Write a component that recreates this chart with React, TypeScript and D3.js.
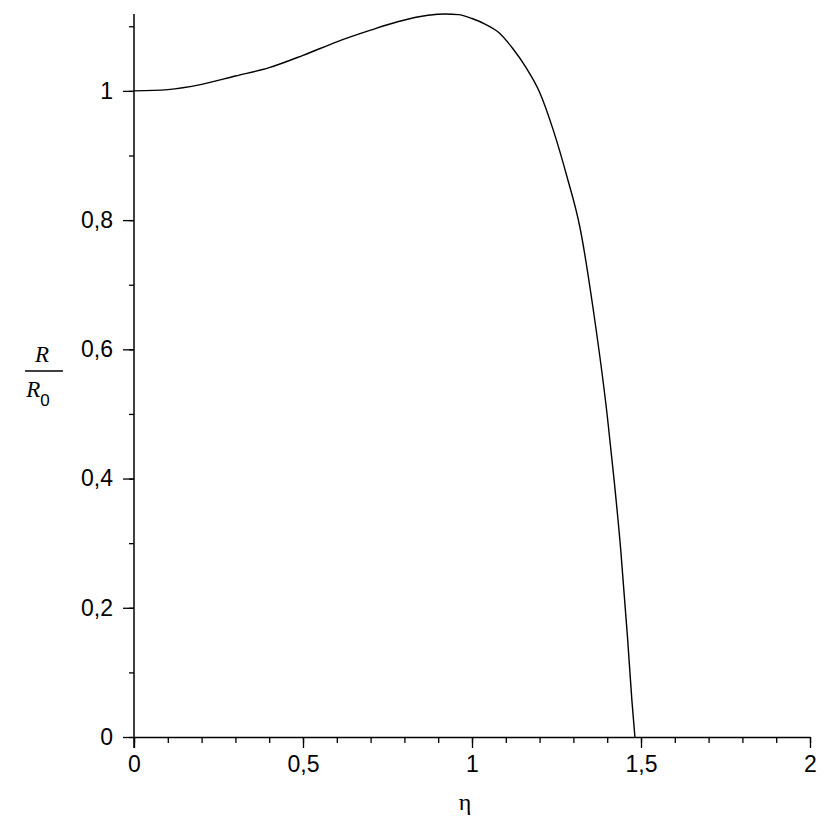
import { useRef, useEffect } from 'react';
import * as d3 from 'd3';

// eta values and R/R0
const ETA = [0, 0.1, 0.2, 0.3, 0.4, 0.5, 0.6, 0.7, 0.78, 0.87, 0.92, 0.96, 1.0, 1.04, 1.08, 1.12, 1.16, 1.2, 1.24, 1.28, 1.32, 1.36, 1.4, 1.42, 1.44, 1.46, 1.473, 1.482];
const RATIO = [1.0, 1.002, 1.01, 1.023, 1.036, 1.055, 1.076, 1.094, 1.107, 1.117, 1.119, 1.118, 1.112, 1.103, 1.09, 1.066, 1.036, 0.998, 0.94, 0.869, 0.787, 0.657, 0.498, 0.4, 0.29, 0.155, 0.057, 0.0];

const X_MAJOR = [0, 0.5, 1, 1.5, 2];
const X_MINOR = d3.range(0, 2.001, 0.1);
const Y_MAJOR = [0, 0.2, 0.4, 0.6, 0.8, 1];
const Y_MINOR = d3.range(0, 1.101, 0.1);

const W = 830;
const H = 830;
const FONT = '"Liberation Sans", Arial, sans-serif';
const SERIF = '"Liberation Serif", "DejaVu Serif", serif';

const locale = d3.formatLocale({ decimal: ',', thousands: '.', grouping: [3], currency: ['', ''] });
const fmt = (v: number) => locale.format('~g')(+v.toFixed(2));

export default function App() {
  const svgRef = useRef<SVGSVGElement>(null);

  useEffect(() => {
    const svg = d3.select(svgRef.current);
    svg.selectAll('*').remove();

    const x = d3.scaleLinear().domain([0, 2]).range([134, 810]);
    const y = d3.scaleLinear().domain([0, 1.119]).range([737, 14]);

    // x axis: minor ticks
    svg.append('g')
      .attr('transform', `translate(0,${y(0)})`)
      .call(d3.axisBottom(x).tickValues(X_MINOR).tickSize(6).tickSizeOuter(0).tickFormat(() => ''))
      .call((g) => g.select('.domain').attr('stroke', '#000').attr('stroke-width', 1.5))
      .call((g) => g.selectAll('.tick line').attr('stroke', '#000').attr('stroke-width', 1.3));

    // x axis: major ticks + labels
    svg.append('g')
      .attr('transform', `translate(0,${y(0)})`)
      .call(d3.axisBottom(x).tickValues(X_MAJOR).tickSize(11).tickPadding(8).tickFormat((d) => fmt(d as number)))
      .call((g) => g.select('.domain').remove())
      .call((g) => g.selectAll('.tick line').attr('stroke', '#000').attr('stroke-width', 1.3))
      .call((g) => g.selectAll('.tick text').attr('fill', '#000').attr('font-family', FONT).attr('font-size', '23px'));

    // y axis: minor ticks
    svg.append('g')
      .attr('transform', `translate(${x(0)},0)`)
      .call(d3.axisLeft(y).tickValues(Y_MINOR).tickSize(5).tickSizeOuter(0).tickFormat(() => ''))
      .call((g) => g.select('.domain').attr('stroke', '#000').attr('stroke-width', 1.5).attr('d', `M0,${y(1.119)}V${y(0) + 11}`))
      .call((g) => g.selectAll('.tick line').attr('stroke', '#000').attr('stroke-width', 1.3));

    // y axis: major ticks + labels
    svg.append('g')
      .attr('transform', `translate(${x(0)},0)`)
      .call(d3.axisLeft(y).tickValues(Y_MAJOR).tickSize(11).tickPadding(10).tickFormat((d) => fmt(d as number)))
      .call((g) => g.select('.domain').remove())
      .call((g) => g.selectAll('.tick line').attr('stroke', '#000').attr('stroke-width', 1.3))
      .call((g) => g.selectAll('.tick text').attr('fill', '#000').attr('font-family', FONT).attr('font-size', '23px'));

    // curve
    const pts = ETA.map((e, i) => [e, RATIO[i]] as [number, number]);
    const line = d3.line<[number, number]>()
      .x((d) => x(d[0]))
      .y((d) => y(d[1]))
      .curve(d3.curveMonotoneX);
    svg.append('path')
      .datum(pts)
      .attr('d', line)
      .attr('fill', 'none')
      .attr('stroke', '#000')
      .attr('stroke-width', 1.4);

    // x label
    svg.append('text')
      .attr('x', 465)
      .attr('y', 810)
      .attr('text-anchor', 'middle')
      .attr('font-family', SERIF)
      .attr('font-size', '24px')
      .attr('fill', '#000')
      .text('η');

    // y label R / R0
    const lab = svg.append('g').attr('fill', '#000');
    lab.append('text')
      .attr('x', 42)
      .attr('y', 362)
      .attr('text-anchor', 'middle')
      .attr('font-family', SERIF)
      .attr('font-style', 'italic')
      .attr('font-size', '23px')
      .text('R');
    lab.append('line')
      .attr('x1', 25).attr('x2', 63)
      .attr('y1', 371).attr('y2', 371)
      .attr('stroke', '#000')
      .attr('stroke-width', 1.5);
    const low = lab.append('text')
      .attr('x', 38)
      .attr('y', 397)
      .attr('text-anchor', 'middle')
      .attr('font-family', SERIF)
      .attr('font-style', 'italic')
      .attr('font-size', '23px');
    low.append('tspan').text('R');
    low.append('tspan')
      .attr('font-style', 'normal')
      .attr('font-family', FONT)
      .attr('font-size', '17px')
      .attr('dy', 9)
      .text('0');
  }, []);

  return (
    <svg
      ref={svgRef}
      width={W}
      height={H}
      style={{ position: 'absolute', left: 0, top: 0, background: '#fff', display: 'block' }}
    />
  );
}
